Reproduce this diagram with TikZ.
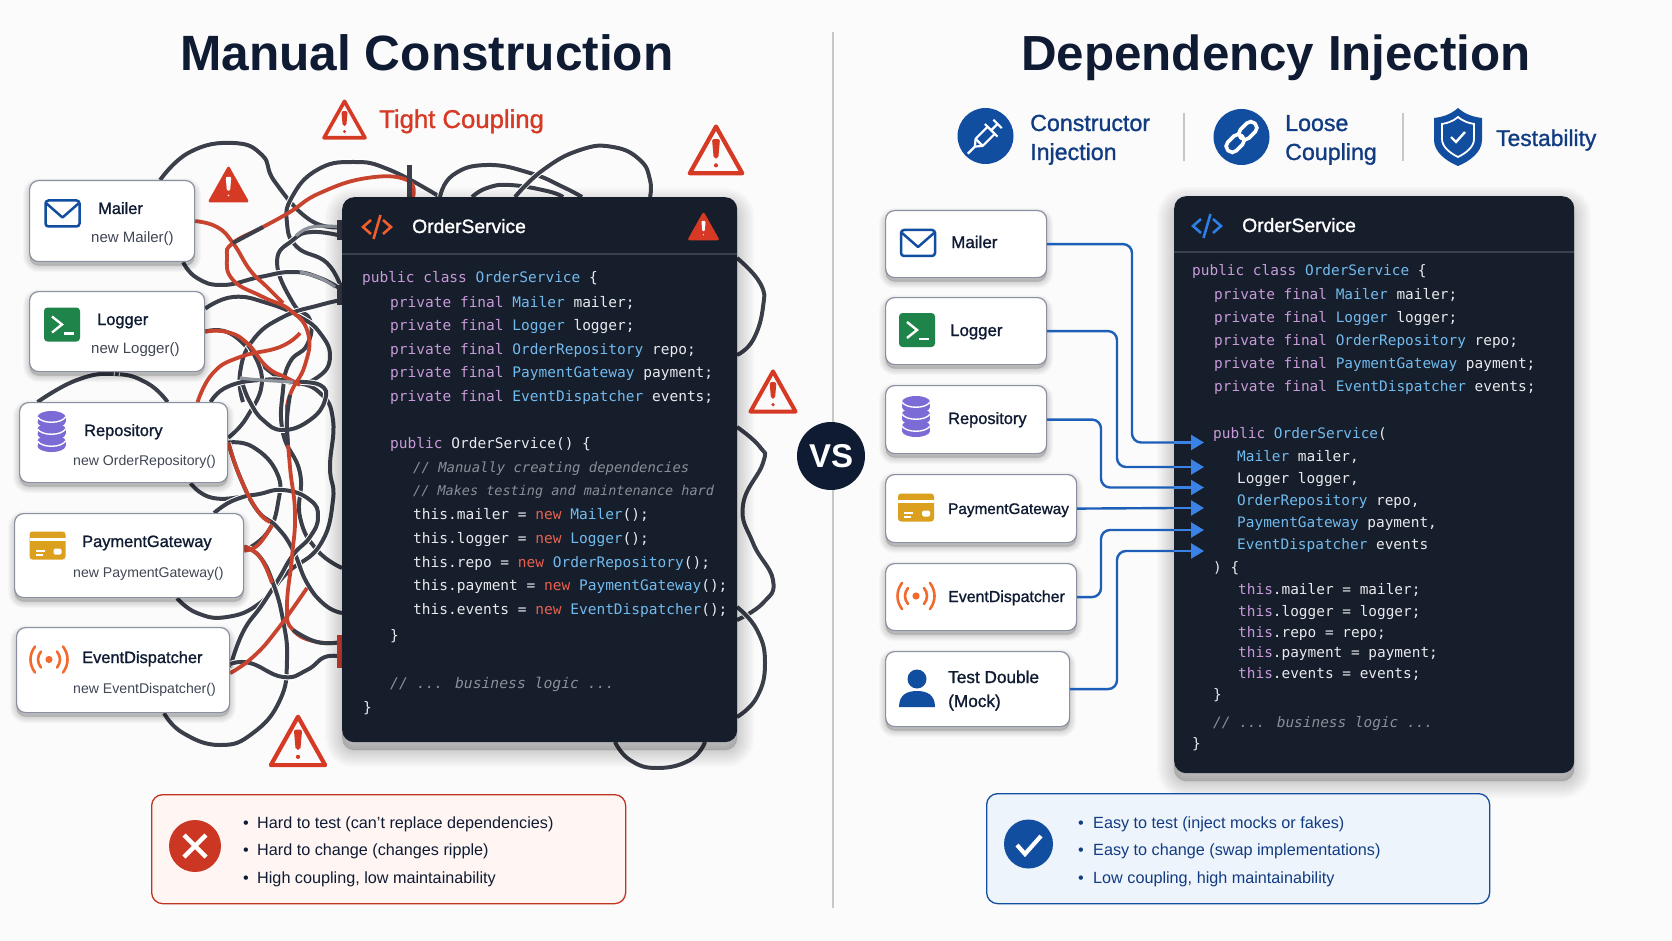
\documentclass[tikz,border=0pt]{standalone}
\usepackage{fontspec}
\setmainfont{Liberation Sans}
\newfontfamily\medfont[FakeBold=1.2]{Liberation Sans}
\newfontfamily\codefont{DejaVu Sans Mono}
\usetikzlibrary{arrows.meta}

\definecolor{pagebg}{HTML}{FBFBFC}
\definecolor{inkdark}{HTML}{0F1B33}
\definecolor{alertred}{HTML}{D63A24}
\definecolor{wiregray}{HTML}{3B3F4A}
\definecolor{wirelight}{HTML}{8E939C}
\definecolor{wirered}{HTML}{C9442F}
\definecolor{panelbg}{HTML}{161D2B}
\definecolor{panelline}{HTML}{3A404D}
\definecolor{boxline}{HTML}{8A90A0}
\definecolor{subtext}{HTML}{3F4654}
\definecolor{navy}{HTML}{123C82}
\definecolor{brandblue}{HTML}{124EA0}
\definecolor{wireblue}{HTML}{1D5FB8}
\definecolor{tipblue}{HTML}{3B82E6}
\definecolor{codewhite}{HTML}{E8EAED}
\definecolor{codepink}{HTML}{C79BD8}
\definecolor{codeblue}{HTML}{72BBEE}
\definecolor{codered}{HTML}{E8604F}
\definecolor{codegray}{HTML}{8A8F98}
\definecolor{termgreen}{HTML}{1E8449}
\definecolor{dbpurple}{HTML}{7B6BD6}
\definecolor{cardgold}{HTML}{DBA01E}
\definecolor{radioorange}{HTML}{F26B2D}
\definecolor{tagorange}{HTML}{EE5F2B}
\definecolor{tagblue}{HTML}{2D7FE6}
\definecolor{badfill}{HTML}{FFF5F3}
\definecolor{goodfill}{HTML}{EEF4FC}

\newcommand{\kw}[1]{\textcolor{codepink}{#1}}
\newcommand{\ty}[1]{\textcolor{codeblue}{#1}}
\newcommand{\nw}[1]{\textcolor{codered}{#1}}
\newcommand{\fsz}[1]{\fontsize{#1}{#1}\selectfont}

\pgfdeclarelayer{back}
\pgfdeclarelayer{wires}
\pgfsetlayers{back,wires,main}

\tikzset{
    shadowcoat/.style={preaction={draw=black, fill=black, draw opacity=.022, fill opacity=.022, line width=#1, transform canvas={yshift=-4pt}}},
    softshadow/.style={shadowcoat=13pt, shadowcoat=11pt, shadowcoat=9pt, shadowcoat=7pt, shadowcoat=5pt, shadowcoat=3pt, shadowcoat=1pt},
    deepcoat/.style={preaction={draw=black, fill=black, draw opacity=.02, fill opacity=.02, line width=#1, transform canvas={yshift=-8pt}}},
    deepshadow/.style={deepcoat=34pt, deepcoat=30pt, deepcoat=26pt, deepcoat=22pt, deepcoat=18pt, deepcoat=14pt, deepcoat=10pt, deepcoat=6pt, deepcoat=2pt},
    depbox/.style={draw=boxline, line width=1.2pt, fill=white, rounded corners=9pt, anchor=north west, softshadow},
    codepanel/.style={fill=panelbg, rounded corners=12pt, anchor=north west, deepshadow},
    boxtitle/.style={anchor=base west, inner sep=0pt, text=inkdark, font=\medfont\fsz{16.4}},
    boxsub/.style={anchor=base west, inner sep=0pt, text=subtext, font=\fsz{14.1}},
    panelhead/.style={anchor=base west, inner sep=0pt, text=white, font=\medfont\fsz{19.3}},
    codeline/.style={anchor=base west, inner sep=0pt, text=codewhite, font=\codefont\fsz{14.5}},
    codenote/.style={codeline, text=codegray, font=\codefont\itshape\fsz{14.42}},
    notebox/.style={line width=1.3pt, rounded corners=11pt, anchor=north west},
    noteline/.style={anchor=base west, inner sep=0pt, text=inkdark, font=\fsz{16.2}},
    perkline/.style={anchor=base west, inner sep=0pt, text=navy, font=\medfont\fsz{23.2}},
    cable/.style={draw=wiregray, line width=4pt, preaction={draw=white, line width=6pt}},
    redcable/.style={draw=wirered, line width=3.8pt},
    graycable/.style={draw=wirelight, line width=3.2pt},
    inject/.style={draw=wireblue, line width=2.4pt, rounded corners=9pt},
    injecttip/.style={draw=tipblue, line width=2.4pt, -{Triangle[length=13pt,width=15pt]}},
    warnout/.pic={
        \draw[alertred, line join=round] (0,-42) -- (46,40) -- (-46,40) -- cycle;
        \fill[alertred, rounded corners=2pt] (-7,-20) -- (7,-20) -- (4,14) -- (-4,14) -- cycle;
        \fill[alertred] (0,26) circle[radius=3.6pt];
    },
    warnfill/.pic={
        \draw[alertred, fill=alertred, line join=round, line width=3pt] (0,-42) -- (46,40) -- (-46,40) -- cycle;
        \fill[white, rounded corners=1pt] (-7,-20) -- (7,-20) -- (4,14) -- (-4,14) -- cycle;
        \fill[white] (0,26) circle[radius=2.2pt];
    },
    envicon/.pic={
        \draw[brandblue, line width=2.5pt, rounded corners=3pt] (-17,-13) rectangle (17,13);
        \draw[brandblue, line width=2.5pt, line join=round] (-16,-10) -- (0,4) -- (16,-10);
    },
    termicon/.pic={
        \fill[termgreen, rounded corners=3.5pt] (-18,-17) rectangle (18,17);
        \draw[white, line width=2.4pt, line join=miter] (-10,-8) -- (0,0) -- (-10,8);
        \draw[white, line width=2.2pt] (2,9) -- (12,9);
    },
    dbicon/.pic={
        \foreach \yy in {7,-5,-17}{
            \fill[dbpurple] (-14,\yy) rectangle (14,\yy+5);
            \fill[dbpurple] (0,\yy+5) ellipse[x radius=14pt, y radius=6pt];
            \fill[dbpurple] (0,\yy) ellipse[x radius=14pt, y radius=6pt];
            \draw[white, line width=1.4pt] (-14,\yy) .. controls (-10,\yy+7) and (10,\yy+7) .. (14,\yy);
        }
    },
    cardicon/.pic={
        \fill[cardgold, rounded corners=3pt] (-18,-14) rectangle (18,14);
        \fill[white] (-18,-8) rectangle (18,-5);
        \fill[white] (-12,4) rectangle (-3,6);
        \fill[white] (-12,8) rectangle (-5,10);
        \fill[white, rounded corners=1.5pt] (6,3) rectangle (14,9);
    },
    radioicon/.pic={
        \fill[radioorange] (0,0) circle[radius=3.6pt];
        \draw[radioorange, line width=2.6pt, line cap=round] (-8,-8) .. controls (-12,-3) and (-12,3) .. (-8,8);
        \draw[radioorange, line width=2.6pt, line cap=round] (8,-8) .. controls (12,-3) and (12,3) .. (8,8);
        \draw[radioorange, line width=2.6pt, line cap=round] (-14,-13) .. controls (-20,-5) and (-20,5) .. (-14,13);
        \draw[radioorange, line width=2.6pt, line cap=round] (14,-13) .. controls (20,-5) and (20,5) .. (14,13);
    },
    codetag/.pic={
        \draw[line width=2.6pt, line join=miter] (-6,-7) -- (-14,0) -- (-6,7);
        \draw[line width=2.6pt, line join=miter] (6,-7) -- (14,0) -- (6,7);
        \draw[line width=2.6pt] (3.5,-12) -- (-3.5,12);
    }
}

\begin{document}
\begin{tikzpicture}[x=1pt, y=-1pt, tension=.8]
    \useasboundingbox (0,0) rectangle (1672,941);
    \begin{pgfonlayer}{back}
        \fill[pagebg] (0,0) rectangle (1672,941);
    \end{pgfonlayer}
    \draw[draw=black!22, line width=1.6pt] (833,32) -- (833,908);

    % titles
    \node[text=inkdark, font=\bfseries\fsz{49.6}] (leftTitle) at (427,53) {Manual Construction};
    \node[text=inkdark, font=\bfseries\fsz{49.3}] (rightTitle) at (1276,58) {Dependency Injection};
    \pic[scale=.445, line width=3.6pt] at (344.5,120) {warnout};
    \node[anchor=base west, inner sep=0pt, text=alertred, font=\medfont\fsz{25.7}] (tightText) at (379,128) {Tight Coupling};

    % left boxes
    \node[depbox, minimum width=165pt, minimum height=81pt] (mailerL) at (29,180) {};
    \node[depbox, minimum width=175pt, minimum height=80pt] (loggerL) at (29,291) {};
    \node[depbox, minimum width=208pt, minimum height=80pt] (repoL) at (19,402) {};
    \node[depbox, minimum width=229pt, minimum height=84pt] (paymentL) at (14,513) {};
    \node[depbox, minimum width=213pt, minimum height=85pt] (eventL) at (16,627) {};
    \node[boxtitle] (mailerLt) at (98,214) {Mailer};
    \node[boxsub, font=\fsz{15}] (mailerLs) at (91,243) {new Mailer()};
    \node[boxtitle] (loggerLt) at (97,325) {Logger};
    \node[boxsub, font=\fsz{15}] (loggerLs) at (91,353) {new Logger()};
    \node[boxtitle] (repoLt) at (84,436) {Repository};
    \node[boxsub] (repoLs) at (73,465) {new OrderRepository()};
    \node[boxtitle] (paymentLt) at (82,547) {PaymentGateway};
    \node[boxsub] (paymentLs) at (73,577) {new PaymentGateway()};
    \node[boxtitle] (eventLt) at (82,663) {EventDispatcher};
    \node[boxsub] (eventLs) at (73,693) {new EventDispatcher()};
    \pic at (62.5,213.5) {envicon};
    \pic at (62,324.5) {termicon};
    \pic at (51.5,434) {dbicon};
    \pic at (47.5,545.5) {cardicon};
    \pic at (49,659.5) {radioicon};

    % left code
    \node[codepanel, minimum width=395pt, minimum height=545pt] (panelL) at (342,197) {};
    \draw[panelline, line width=1.2pt] (342,254) -- (737,254);
    \pic[color=tagorange] at (377,227) {codetag};
    \node[panelhead] (headL) at (412,233) {OrderService};
    \pic[scale=.3] at (703.5,227) {warnfill};
    \node[codeline] (la1) at (362,283) {\kw{public class} \ty{OrderService} \{};
    \node[codeline] (la2) at (390,307) {\kw{private final} \ty{Mailer} mailer;};
    \node[codeline] (la3) at (390,330) {\kw{private final} \ty{Logger} logger;};
    \node[codeline] (la4) at (390,354) {\kw{private final} \ty{OrderRepository} repo;};
    \node[codeline] (la5) at (390,377) {\kw{private final} \ty{PaymentGateway} payment;};
    \node[codeline] (la6) at (390,401) {\kw{private final} \ty{EventDispatcher} events;};
    \node[codeline] (la7) at (390,448) {\kw{public} OrderService() \{};
    \node[codenote, font=\codefont\itshape\fsz{13.9}] (la8) at (413,472) {// Manually creating dependencies};
    \node[codenote, font=\codefont\itshape\fsz{13.5}] (la9) at (413,495) {// Makes testing and maintenance hard};
    \node[codeline] (la10) at (413,519) {this.mailer = \nw{new} \ty{Mailer}();};
    \node[codeline] (la11) at (413,543) {this.logger = \nw{new} \ty{Logger}();};
    \node[codeline] (la12) at (413,567) {this.repo = \nw{new} \ty{OrderRepository}();};
    \node[codeline] (la13) at (413,590) {this.payment = \nw{new} \ty{PaymentGateway}();};
    \node[codeline] (la14) at (413,614) {this.events = \nw{new} \ty{EventDispatcher}();};
    \node[codeline] (la15) at (390,640) {\}};
    \node[codenote, font=\codefont\itshape\fsz{14.7}] (la16) at (390,688) {// ... business logic ...};
    \node[codeline] (la17) at (363,712) {\}};

    % ports of the tangle
    \coordinate (portA) at (342,227);
    \coordinate (portB) at (342,290);
    \coordinate (portC) at (342,300);
    \coordinate (portD) at (342,568);
    \coordinate (portE) at (342,613);
    \coordinate (portF) at (342,642);
    \coordinate (portG) at (342,657);
    \coordinate (portH) at (342,236);
    \coordinate (topA) at (440,197);
    \coordinate (topB) at (472,197);
    \coordinate (topC) at (515,197);
    \coordinate (topD) at (582,197);
    \coordinate (topE) at (650,197);
    \coordinate (topF) at (413,197);
    \coordinate (rimA) at (737,258);
    \coordinate (rimB) at (737,355);
    \coordinate (rimC) at (737,427);
    \coordinate (rimD) at (737,620);
    \coordinate (rimE) at (737,607);
    \coordinate (rimF) at (737,717);
    \coordinate (rimG) at (615,742);
    \coordinate (rimH) at (705,742);

    \begin{pgfonlayer}{wires}
        \draw[cable] plot[smooth] coordinates {([xshift=48pt]mailerL.north) (190,152) (233,143) (262,155) (275,182) (310,220) (portA)};
        \draw[cable] plot[smooth] coordinates {(topA) (390,170) (353,162) (317,170) (292,197) (287,223) (297,247) (327,263) (portB)};
        \draw[cable] plot[smooth] coordinates {(portH) (312,232) (293,240) (277,262) (293,303) (310,320) (307,345) (290,362) (283,390) (283,433) (300,473) (300,517) (317,550) (portD)};
        \draw[cable] plot[smooth] coordinates {([xshift=71pt]mailerL.south) (197,278) (223,285) (260,277) (293,272) (320,278) (portB)};
        \draw[cable] plot[smooth] coordinates {([yshift=23pt]loggerL.east) (233,297) (267,303) (300,317) (320,333) (330,357) (318,377) (293,383) (268,370) (250,350) (227,332) (loggerL.east)};
        \draw[cable] plot[smooth] coordinates {(243,402) (240,373) (253,340) (283,317) (320,305) (portC)};
        \draw[cable] plot[smooth] coordinates {([xshift=87pt]repoL.north) (227,387) (260,380) (293,382) (320,393) (333,420) (330,467) (333,500) (320,545) (287,573) (260,603) (227,617) (197,613) ([xshift=48pt]paymentL.south)};
        \draw[cable] plot[smooth] coordinates {([yshift=5pt]repoL.east) (247,417) (262,380) (248,345)};
        \draw[cable] plot[smooth] coordinates {(243,385) (250,402) (263,420) (283,430) (310,420) (325,400) (320,385) (293,382)};
        \draw[cable] plot[smooth] coordinates {(repoL.east) (253,447) (277,473) (278,503) (267,533) ([yshift=5pt]paymentL.east)};
        \draw[cable] plot[smooth] coordinates {(repoL.east) (240,477) (257,510) (277,527) (293,550) (307,583) (325,605) (portE)};
        \draw[cable] plot[smooth] coordinates {([xshift=67pt]repoL.south) (213,498) (253,495) (283,490) (310,500) (318,517) (310,537) (293,555) (278,580) (262,605) (243,632) ([yshift=3pt]eventL.east)};
        \draw[cable] plot[smooth] coordinates {([xshift=85pt]paymentL.north) (230,502) (250,495)};
        \draw[cable] plot[smooth] coordinates {([yshift=9pt]paymentL.east) (260,557) (273,583) (283,620) (287,660) (280,700) (253,733) (220,745) (183,733) ([xshift=41pt]eventL.south)};
        \draw[cable] plot[smooth] coordinates {([yshift=6pt]eventL.east) (250,663) (283,677) (307,670) (325,657) (portG)};
        \draw[cable] plot[smooth] coordinates {([xshift=-86pt]repoL.north) (77,380) (115,374) (147,383) ([xshift=44pt]repoL.north)};
        \draw[cable] (loggerL.south) -- (116.5,376);
        % top of the panel
        \draw[cable] plot[smooth] coordinates {(topA) (453,175) (487,165) (530,173) (563,187) (topD)};
        \draw[cable] plot[smooth] coordinates {(topB) (487,188) (510,185) (547,191) (563,197)};
        \draw[cable] plot[smooth] coordinates {(topC) (543,170) (580,150) (613,147) (640,160) (650,180) (topE)};
        % right side of the panel
        \draw[cable] plot[smooth] coordinates {(rimA) (760,283) (763,307) (753,340) (rimB)};
        \draw[cable] plot[smooth] coordinates {(rimC) (760,447) (763,463) (743,505) (753,543) (773,580) (763,603) (rimD)};
        \draw[cable] plot[smooth] coordinates {(rimE) (757,630) (765,663) (757,697) (rimF)};
        \draw[cable] plot[smooth] coordinates {(rimG) (630,760) (657,768) (690,760) (rimH)};
        % red ones
        \draw[redcable] plot[smooth] coordinates {(topF) (407,180) (367,178) (320,193) (290,212) (263,227) (233,243) (227,257) (233,280) (263,297) (290,310) (308,333) (305,365) (290,395) (287,420) (290,467) (295,513) (292,557) (287,607) (293,630) (317,642) (portF)};
        \draw[redcable] plot[smooth] coordinates {(mailerL.east) (217,227) (233,243) (250,270) (267,287) (283,303)};
        \draw[redcable] plot[smooth] coordinates {(loggerL.east) (227,332) (247,343) (267,367) (287,378) (300,385)};
        \draw[redcable] plot[smooth] coordinates {([xshift=74pt]repoL.north) (213,373) (240,357) (280,347) (300,333)};
        \draw[redcable] plot[smooth] coordinates {([yshift=-3pt]eventL.east) (253,657) (277,630) (307,588)};
        \draw[redcable] plot[smooth] coordinates {(repoL.east) (240,477) (257,510) (270,522)};
        \draw[redcable] plot[smooth] coordinates {([yshift=5pt]paymentL.east) (258,545) (272,525)};
        \draw[redcable] plot[smooth] coordinates {([yshift=9pt]paymentL.east) (260,557) (272,583)};
        % dark patches on the red ones
        \draw[wiregray, line width=4pt] plot[smooth] coordinates {(263,227) (233,243)};
        \draw[wiregray, line width=4pt] plot[smooth] coordinates {(290,395) (287,420) (288,445)};
        \draw[wiregray, line width=4pt] plot[smooth] coordinates {(293,630) (317,642) (portF)};
        \draw[graycable] plot[smooth] coordinates {(296,236) (312,227) (portA)};
        \draw[graycable] plot[smooth] coordinates {(240,378) (260,380) (293,382)};
        \draw[graycable] plot[smooth] coordinates {(300,272) (320,278) (335,287)};
        % plugs
        \fill[wiregray] (337,220) rectangle (342,240);
        \fill[wiregray] (337,285) rectangle (342,305);
        \fill[wirered] (337,635) rectangle (342,668);
        \fill[wiregray] (406.5,165) rectangle (411.5,197);
    \end{pgfonlayer}

    \pic[scale=.4] at (228.5,185) {warnfill};
    \pic[scale=.57, line width=4.2pt] at (716,150.5) {warnout};
    \pic[scale=.49, line width=4pt] at (773,392) {warnout};
    \pic[scale=.59, line width=4.2pt] at (298,741.5) {warnout};

    % bad note
    \node[notebox, draw=alertred!90!black, fill=badfill, minimum width=474pt, minimum height=109pt] (badNote) at (151,794) {};
    \node[circle, fill=alertred!95!black, minimum size=52pt, inner sep=0pt] (badIcon) at (195,846) {};
    \draw[white, line width=4.4pt] (184,835) -- (206,857);
    \draw[white, line width=4.4pt] (206,835) -- (184,857);
    \node[noteline] (bad1) at (243,828) {\makebox[14pt][l]{\textbullet}Hard to test (can’t replace dependencies)};
    \node[noteline] (bad2) at (243,855) {\makebox[14pt][l]{\textbullet}Hard to change (changes ripple)};
    \node[noteline] (bad3) at (243,883) {\makebox[14pt][l]{\textbullet}High coupling, low maintainability};

    % vs
    \node[circle, fill=inkdark, text=white, minimum size=68pt, inner sep=0pt, font=\bfseries\fsz{33}] (vsMark) at (831,456) {VS};

    % perks
    \node[circle, fill=brandblue, minimum size=56pt, inner sep=0pt] (syringeDot) at (985.5,136) {};
    \begin{scope}[shift={(985.5,136)}, rotate=-45, white, line width=2.2pt, line join=round]
        \draw (-5,-8) rectangle (5,9);
        \draw (-5,9) -- (0,15) -- (5,9);
        \draw (0,15) -- (0,25);
        \draw (0,-8) -- (0,-17);
        \draw (-6,-17) -- (6,-17);
        \draw (-9,-8) -- (9,-8);
    \end{scope}
    \node[perkline] (perkA1) at (1030,131) {Constructor};
    \node[perkline] (perkA2) at (1030,160) {Injection};
    \draw[black!22, line width=1.6pt] (1184,113) -- (1184,161);
    \node[circle, fill=brandblue, minimum size=56pt, inner sep=0pt] (linkDot) at (1241.5,137) {};
    \begin{scope}[shift={(1241.5,137)}, rotate=-45, white, line width=3.6pt]
        \draw[rounded corners=5.5pt] (-6,-19) rectangle (6,1);
        \draw[rounded corners=5.5pt] (-6,-1) rectangle (6,19);
    \end{scope}
    \node[perkline] (perkB1) at (1285,131) {Loose};
    \node[perkline] (perkB2) at (1285,160) {Coupling};
    \draw[black!22, line width=1.6pt] (1403,113) -- (1403,161);
    \begin{scope}[shift={(1458,137)}]
        \fill[brandblue] (0,-29) .. controls (8,-22) and (16,-20) .. (24,-19) -- (24,3) .. controls (24,15) and (12,24) .. (0,29) .. controls (-12,24) and (-24,15) .. (-24,3) -- (-24,-19) .. controls (-16,-20) and (-8,-22) .. cycle;
        \draw[white, line width=1.8pt] (0,-20) .. controls (6,-15) and (11,-14) .. (16,-13) -- (16,2) .. controls (16,10) and (8,16) .. (0,20) .. controls (-8,16) and (-16,10) .. (-16,2) -- (-16,-13) .. controls (-11,-14) and (-6,-15) .. cycle;
        \draw[white, line width=2.4pt] (-7,0) -- (-2,5) -- (7,-5);
    \end{scope}
    \node[perkline, font=\medfont\fsz{22.8}] (perkC) at (1496,146) {Testability};

    % right boxes
    \node[depbox, minimum width=161pt, minimum height=67pt] (mailerR) at (885,210) {};
    \node[depbox, minimum width=161pt, minimum height=67pt] (loggerR) at (885,297) {};
    \node[depbox, minimum width=161pt, minimum height=68pt] (repoR) at (885,385) {};
    \node[depbox, minimum width=191pt, minimum height=68pt] (paymentR) at (885,474) {};
    \node[depbox, minimum width=191pt, minimum height=67pt] (eventR) at (885,563) {};
    \node[depbox, minimum width=184pt, minimum height=75pt] (mockR) at (885,651) {};
    \node[boxtitle, font=\medfont\fsz{17}] (mailerRt) at (951,248) {Mailer};
    \node[boxtitle, font=\medfont\fsz{16.8}] (loggerRt) at (950,336) {Logger};
    \node[boxtitle] (repoRt) at (948,424) {Repository};
    \node[boxtitle, font=\medfont\fsz{15.3}] (paymentRt) at (948,514) {PaymentGateway};
    \node[boxtitle, font=\medfont\fsz{15.9}] (eventRt) at (948,602) {EventDispatcher};
    \node[boxtitle, font=\medfont\fsz{17.2}] (mockRa) at (948,683) {Test Double};
    \node[boxtitle, font=\medfont\fsz{17.2}] (mockRb) at (948,707) {(Mock)};
    \pic at (918,243) {envicon};
    \pic at (917,330) {termicon};
    \pic at (916,419) {dbicon};
    \pic at (916,507.5) {cardicon};
    \pic at (916,596) {radioicon};
    \fill[brandblue] (917,679) circle[radius=9.5pt];
    \fill[brandblue] (899,707) .. controls (899,694) and (908,691) .. (917,691) .. controls (926,691) and (935,694) .. (935,707) -- cycle;

    % right code
    \node[codepanel, minimum width=400pt, minimum height=577pt] (panelR) at (1174,196) {};
    \draw[panelline, line width=1.2pt] (1174,252) -- (1574,252);
    \pic[color=tagblue] at (1207,226) {codetag};
    \node[panelhead] (headR) at (1242,232) {OrderService};
    \node[codeline, font=\codefont\fsz{14.42}] (rb1) at (1192,276) {\kw{public class} \ty{OrderService} \{};
    \node[codeline, font=\codefont\fsz{14.42}] (rb2) at (1214,299) {\kw{private final} \ty{Mailer} mailer;};
    \node[codeline, font=\codefont\fsz{14.42}] (rb3) at (1214,322) {\kw{private final} \ty{Logger} logger;};
    \node[codeline, font=\codefont\fsz{14.42}] (rb4) at (1214,345) {\kw{private final} \ty{OrderRepository} repo;};
    \node[codeline, font=\codefont\fsz{14.42}] (rb5) at (1214,368.5) {\kw{private final} \ty{PaymentGateway} payment;};
    \node[codeline, font=\codefont\fsz{14.42}] (rb6) at (1214,391) {\kw{private final} \ty{EventDispatcher} events;};
    \node[codeline, font=\codefont\fsz{14.42}] (rb7) at (1213,438) {\kw{public} \ty{OrderService}(};
    \node[codeline, font=\codefont\fsz{14.42}] (rb8) at (1237,461) {\ty{Mailer} mailer,};
    \node[codeline, font=\codefont\fsz{14.42}] (rb9) at (1237,483) {Logger logger,};
    \node[codeline, font=\codefont\fsz{14.42}] (rb10) at (1237,505) {\ty{OrderRepository} repo,};
    \node[codeline, font=\codefont\fsz{14.42}] (rb11) at (1237,527) {\ty{PaymentGateway} payment,};
    \node[codeline, font=\codefont\fsz{14.42}] (rb12) at (1237,549) {\ty{EventDispatcher} events};
    \node[codeline, font=\codefont\fsz{14.42}] (rb13) at (1213,572) {) \{};
    \node[codeline, font=\codefont\fsz{14.42}] (rb14) at (1238,594) {\kw{this}.mailer = mailer;};
    \node[codeline, font=\codefont\fsz{14.42}] (rb15) at (1238,616) {\kw{this}.logger = logger;};
    \node[codeline, font=\codefont\fsz{14.42}] (rb16) at (1238,637) {\kw{this}.repo = repo;};
    \node[codeline, font=\codefont\fsz{14.42}] (rb17) at (1238,657) {\kw{this}.payment = payment;};
    \node[codeline, font=\codefont\fsz{14.42}] (rb18) at (1238,678.5) {\kw{this}.events = events;};
    \node[codeline, font=\codefont\fsz{14.42}] (rb19) at (1213,699) {\}};
    \node[codenote] (rb20) at (1213,727) {// ... business logic ...};
    \node[codeline, font=\codefont\fsz{14.42}] (rb21) at (1192,748) {\}};

    % injection lines
    \coordinate (pin1) at (1204,442.5);
    \coordinate (pin2) at (1204,467);
    \coordinate (pin3) at (1204,487.5);
    \coordinate (pin4) at (1204,508);
    \coordinate (pin5) at (1204,530);
    \coordinate (pin6) at (1204,551);
    \coordinate (turn1) at (1132,300);
    \coordinate (turn2) at (1117,400);
    \coordinate (turn3) at (1101,450);
    \coordinate (turn5) at (1101,560);
    \coordinate (turn6) at (1117,620);
    \draw[inject] (mailerR.east) -| (turn1) |- (pin1 -| panelR.west);
    \draw[inject] (loggerR.east) -| (turn2) |- (pin2 -| panelR.west);
    \draw[inject] (repoR.east) -| (turn3) |- (pin3 -| panelR.west);
    \draw[inject] (paymentR.east) -- (pin4 -| panelR.west);
    \draw[inject] (eventR.east) -| (turn5) |- (pin5 -| panelR.west);
    \draw[inject] (mockR.east) -| (turn6) |- (pin6 -| panelR.west);
    \draw[injecttip] (pin1 -| panelR.west) -- (pin1);
    \draw[injecttip] (pin2 -| panelR.west) -- (pin2);
    \draw[injecttip] (pin3 -| panelR.west) -- (pin3);
    \draw[injecttip] (pin4 -| panelR.west) -- (pin4);
    \draw[injecttip] (pin5 -| panelR.west) -- (pin5);
    \draw[injecttip] (pin6 -| panelR.west) -- (pin6);

    % good note
    \node[notebox, draw=brandblue, fill=goodfill, minimum width=503pt, minimum height=110pt] (goodNote) at (986,793) {};
    \node[circle, fill=brandblue, minimum size=49pt, inner sep=0pt] (goodIcon) at (1028.5,844) {};
    \draw[white, line width=4.2pt] (1017,845) -- (1025,854) -- (1041,836);
    \node[noteline, text=navy] (good1) at (1078,828) {\makebox[15pt][l]{\textbullet}Easy to test (inject mocks or fakes)};
    \node[noteline, text=navy] (good2) at (1078,855.5) {\makebox[15pt][l]{\textbullet}Easy to change (swap implementations)};
    \node[noteline, text=navy] (good3) at (1078,883) {\makebox[15pt][l]{\textbullet}Low coupling, high maintainability};
\end{tikzpicture}
\end{document}
